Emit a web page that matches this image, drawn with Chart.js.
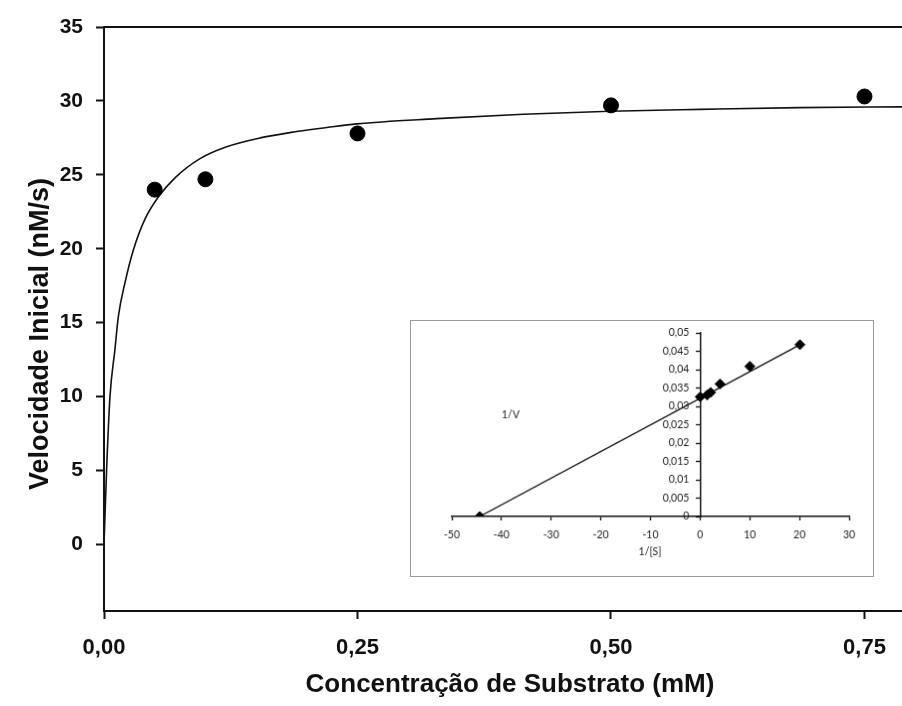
<!DOCTYPE html>
<html>
<head>
<meta charset="utf-8">
<script src="https://cdn.jsdelivr.net/npm/chart.js@4.4.1/dist/chart.umd.min.js"></script>
<style>
  html, body { margin: 0; padding: 0; background: #fff; }
  #wrap { position: relative; width: 902px; height: 706px; overflow: hidden; }
  #main { position: absolute; left: 0; top: 0; }
  #inset { position: absolute; left: 410px; top: 320px; box-sizing: border-box; border: 1.5px solid #9a9a9a; background: #fff; }
</style>
</head>
<body>
<div id="wrap">
  <canvas id="main" width="902" height="706"></canvas>
  <canvas id="inset" width="464" height="257"></canvas>
</div>
<script>
// ---- Main chart data (Michaelis-Menten plot) ----
const substrate = [0.05, 0.10, 0.25, 0.50, 0.75];          // mM
const velocity  = [24.0, 24.7, 27.8, 29.7, 30.3];          // nM/s
// fitted curve
const curveS = [0.0003, 0.0026, 0.0059, 0.0108, 0.0141, 0.0207, 0.0289, 0.0404, 0.0536, 0.070, 0.0947, 0.121, 0.154, 0.187, 0.2196, 0.249, 0.328, 0.4135, 0.499, 0.588, 0.686, 0.787];
const curveV = [0.6, 5.1, 10.0, 13.2, 15.4, 17.7, 19.9, 22.0, 23.5, 24.8, 26.1, 26.9, 27.5, 27.9, 28.2, 28.45, 28.8, 29.1, 29.3, 29.43, 29.55, 29.6];
const xTicks = [0, 0.25, 0.50, 0.75];
const xTickLabels = ['0,00', '0,25', '0,50', '0,75'];
const yTicks = [0, 5, 10, 15, 20, 25, 30, 35];
const xTitle = 'Concentração de Substrato (mM)';
const yTitle = 'Velocidade Inicial (nM/s)';

// ---- Inset data (Lineweaver-Burk plot) ----
const invS = [-44.4, 0, 1.4, 2.1, 4.0, 10.0, 20.1];
const invV = [0, 0.0326, 0.0331, 0.0338, 0.0361, 0.0409, 0.0468];
const lineInvS = [-44.4, 20.1];
const lineInvV = [0, 0.0468];
const insetXTicks = [-50, -40, -30, -20, -10, 0, 10, 20, 30];
const insetYTicks = [0, 0.005, 0.01, 0.015, 0.02, 0.025, 0.03, 0.035, 0.04, 0.045, 0.05];
const insetYTickLabels = ['0', '0,005', '0,01', '0,015', '0,02', '0,025', '0,03', '0,035', '0,04', '0,045', '0,05'];
const insetXTitle = '1/[S]';
const insetYTitle = '1/V';

Chart.defaults.devicePixelRatio = 1;
Chart.defaults.animation = false;

const mainPlugin = {
  id: 'mainDecor',
  afterDraw(chart) {
    const { ctx, chartArea } = chart;
    ctx.save();
    // top frame line
    ctx.strokeStyle = '#111';
    ctx.lineWidth = 2;
    ctx.beginPath();
    ctx.moveTo(chartArea.left - 1, chartArea.top);
    ctx.lineTo(chartArea.right, chartArea.top);
    ctx.stroke();
    // titles
    ctx.fillStyle = '#111';
    ctx.textAlign = 'center';
    ctx.textBaseline = 'middle';
    ctx.font = 'bold 26px "Liberation Sans", Arial, sans-serif';
    ctx.fillText(xTitle, 510, 685);
    ctx.translate(41, 334);
    ctx.rotate(-Math.PI / 2);
    ctx.font = 'bold 27px "Liberation Sans", Arial, sans-serif';
    ctx.fillText(yTitle, 0, 0);
    ctx.restore();
  }
};

new Chart(document.getElementById('main'), {
  type: 'scatter',
  data: {
    datasets: [
      {
        type: 'scatter',
        data: substrate.map((s, i) => ({ x: s, y: velocity[i] })),
        backgroundColor: '#000',
        borderColor: '#000',
        pointRadius: 7.5,
        pointHoverRadius: 7.5,
        order: 0
      },
      {
        type: 'line',
        data: curveS.map((s, i) => ({ x: s, y: curveV[i] })),
        borderColor: '#111',
        borderWidth: 1.6,
        pointRadius: 0,
        fill: false,
        cubicInterpolationMode: 'monotone',
        order: 1
      }
    ]
  },
  options: {
    responsive: false,
    maintainAspectRatio: false,
    layout: { autoPadding: false, padding: { left: 0, right: 0, top: 27, bottom: 0 } },
    plugins: { legend: { display: false }, tooltip: { enabled: false } },
    scales: {
      x: {
        type: 'linear',
        min: 0,
        max: 0.787,
        afterBuildTicks(scale) { scale.ticks = xTicks.map(v => ({ value: v })); },
        afterFit(scale) { scale.height = 95; scale.paddingLeft = 0; scale.paddingRight = 0; },
        ticks: {
          callback: (v) => { const i = xTicks.indexOf(v); return i >= 0 ? xTickLabels[i] : ''; },
          font: { family: '"Liberation Sans", Arial, sans-serif', size: 22, weight: 'bold' },
          color: '#111',
          padding: 16,
          maxRotation: 0,
          autoSkip: false
        },
        grid: { drawOnChartArea: false, drawTicks: true, tickLength: 8, tickWidth: 2, tickColor: '#111' },
        border: { display: true, color: '#111', width: 2 }
      },
      y: {
        type: 'linear',
        min: -4.5,
        max: 35,
        afterBuildTicks(scale) { scale.ticks = yTicks.map(v => ({ value: v })); },
        afterFit(scale) { scale.width = 104; scale.paddingTop = 0; scale.paddingBottom = 0; },
        ticks: {
          callback: (v) => String(v),
          font: { family: '"Liberation Sans", Arial, sans-serif', size: 21, weight: 'bold' },
          color: '#111',
          padding: 13,
          autoSkip: false
        },
        grid: { drawOnChartArea: false, drawTicks: true, tickLength: 8, tickWidth: 2, tickColor: '#111' },
        border: { display: true, color: '#111', width: 2 }
      }
    }
  },
  plugins: [mainPlugin]
});

const insetFont = { family: 'Lato, "Open Sans", sans-serif', size: 10.5 };
const insetPlugin = {
  id: 'insetDecor',
  afterDraw(chart) {
    const { ctx } = chart;
    const xs = chart.scales.x, ys = chart.scales.y;
    ctx.save();
    ctx.fillStyle = '#222';
    ctx.font = '10.5px Lato, "Open Sans", sans-serif';
    ctx.textBaseline = 'middle';
    // y tick labels, left of the y axis drawn at x = 0
    ctx.textAlign = 'right';
    const ax = xs.getPixelForValue(0);
    insetYTicks.forEach((v, i) => {
      ctx.fillText(insetYTickLabels[i], ax - 11, ys.getPixelForValue(v));
    });
    ctx.textAlign = 'center';
    ctx.fillText(insetXTitle, 240, 233);
    ctx.fillText(insetYTitle, 100, 95);
    ctx.restore();
  }
};

new Chart(document.getElementById('inset'), {
  type: 'scatter',
  data: {
    datasets: [
      {
        type: 'scatter',
        data: invS.map((s, i) => ({ x: s, y: invV[i] })),
        backgroundColor: '#000',
        borderColor: '#000',
        pointStyle: 'rectRot',
        pointRadius: 5,
        pointHoverRadius: 5,
        order: 0
      },
      {
        type: 'line',
        data: lineInvS.map((s, i) => ({ x: s, y: lineInvV[i] })),
        borderColor: '#111',
        borderWidth: 1.3,
        pointRadius: 0,
        fill: false,
        order: 1
      }
    ]
  },
  options: {
    responsive: false,
    maintainAspectRatio: false,
    layout: { autoPadding: false, padding: { left: 41, right: 24, top: 12, bottom: 0 } },
    plugins: { legend: { display: false }, tooltip: { enabled: false } },
    scales: {
      x: {
        type: 'linear',
        position: 'bottom',
        min: -50,
        max: 30,
        afterBuildTicks(scale) { scale.ticks = insetXTicks.map(v => ({ value: v })); },
        afterFit(scale) { scale.height = 60; scale.paddingLeft = 0; scale.paddingRight = 0; },
        ticks: { font: insetFont, color: '#222', padding: 8, maxRotation: 0, autoSkip: false, callback: (v) => String(v) },
        grid: { drawOnChartArea: false, drawTicks: true, tickLength: 4, tickWidth: 1.3, tickColor: '#111' },
        border: { display: true, color: '#111', width: 1.5 }
      },
      y: {
        type: 'linear',
        position: { x: 0 },
        min: 0,
        max: 0.05,
        afterBuildTicks(scale) { scale.ticks = insetYTicks.map(v => ({ value: v })); },
        ticks: { display: false },
        grid: { drawOnChartArea: false, drawTicks: true, tickLength: 4, tickWidth: 1.3, tickColor: '#111' },
        border: { display: true, color: '#111', width: 1.5 }
      }
    }
  },
  plugins: [insetPlugin]
});
</script>
</body>
</html>
